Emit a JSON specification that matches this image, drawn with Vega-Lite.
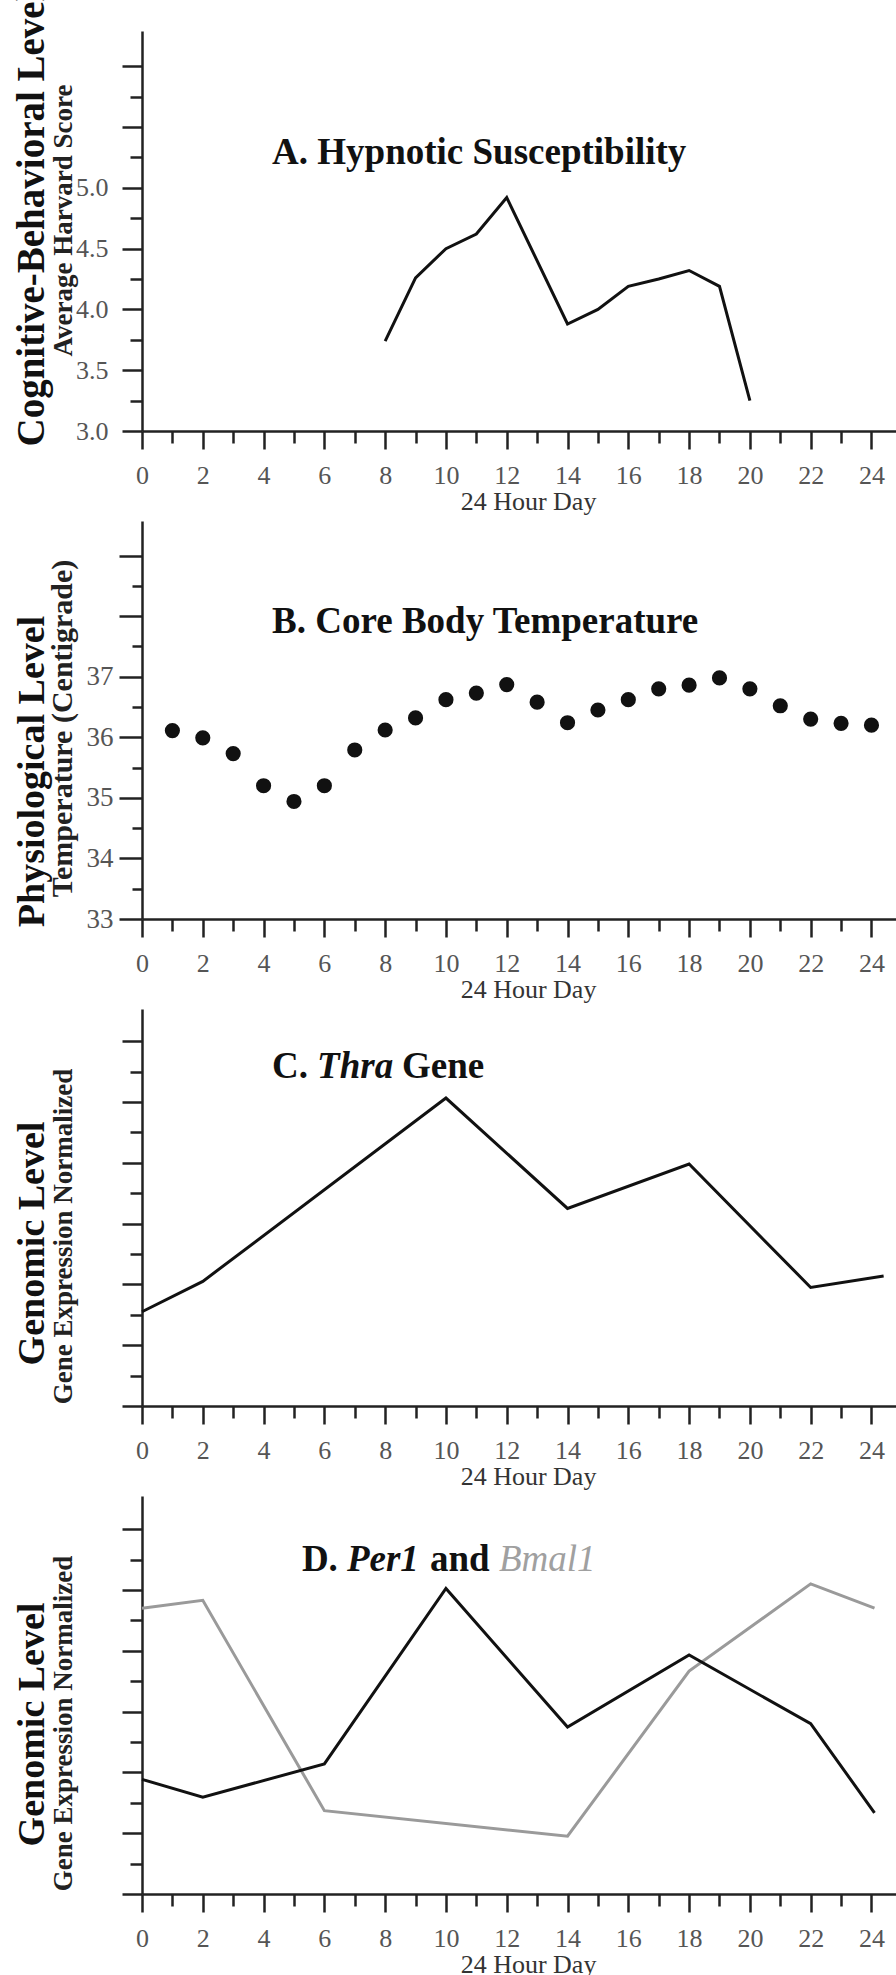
{
  "$schema": "https://vega.github.io/schema/vega-lite/v6.json",
  "autosize": {"type": "pad"},
  "padding": {"top": -11, "left": 11, "right": 0, "bottom": 0},
  "background": "white",
  "config": {
    "view": {"stroke": null},
    "font": "Liberation Serif",
    "axis": {"labelFont": "Liberation Serif", "titleFont": "Liberation Serif", "grid": false},
    "text": {"font": "Liberation Serif"}
  },
  "spacing": 90,
  "bounds": "flush",
  "vconcat": [
    {
      "width": 755, "height": 400,
      "data": {"values": [
        {"hour": 8, "score": 3.74}, {"hour": 9, "score": 4.26}, {"hour": 10, "score": 4.5},
        {"hour": 11, "score": 4.62}, {"hour": 12, "score": 4.92}, {"hour": 14, "score": 3.88},
        {"hour": 15, "score": 4.0}, {"hour": 16, "score": 4.19}, {"hour": 17, "score": 4.25},
        {"hour": 18, "score": 4.32}, {"hour": 19, "score": 4.19}, {"hour": 20, "score": 3.25}
      ]},
      "layer": [
        {
          "mark": {"type": "line", "color": "#111", "strokeWidth": 3},
          "encoding": {
            "x": {"field": "hour", "type": "quantitative", "scale": {"domain": [0, 24.84], "nice": false, "zero": false},
              "axis": {"orient": "bottom", "values": [0,2,4,6,8,10,12,14,16,18,20,22,24], "format": "d", "tickSize": 18, "tickWidth": 2.5, "tickColor": "#222", "domainColor": "#222", "domainWidth": 2.5, "labelFontSize": 26, "labelColor": "#555", "labelPadding": 13, "labelFlush": false, "labelOverlap": false, "title": "24 Hour Day", "titleFontSize": 26, "titleFontWeight": "normal", "titleColor": "#333", "titleX": 386, "titleY": 78, "titleAlign": "center", "titleBaseline": "alphabetic"}},
            "y": {"field": "score", "type": "quantitative", "scale": {"domain": [3, 6.29], "nice": false, "zero": false},
              "axis": {"orient": "left", "values": [3, 3.5, 4, 4.5, 5, 5.5, 6], "labelExpr": "datum.value <= 5 ? format(datum.value, '.1f') : ''", "tickSize": 20, "tickWidth": 2.5, "tickColor": "#222", "domainColor": "#222", "domainWidth": 2.5, "labelFontSize": 26, "labelColor": "#555", "labelPadding": 14, "labelBaseline": "middle", "labelFlush": false, "labelOverlap": false, "title": "Cognitive-Behavioral Level", "titleFontSize": 39, "titleFontWeight": "bold", "titleColor": "#111", "titleAngle": -90, "titleAlign": "center", "titleBaseline": "alphabetic", "titleX": -99, "titleY": 187}}
          }
        },
        {
          "data": {"values": [{"t": "A. Hypnotic Susceptibility"}]},
          "mark": {"type": "text", "align": "left", "baseline": "alphabetic", "fontSize": 37, "fontWeight": "bold", "color": "#111"},
          "encoding": {
            "x": {"datum": 4.28, "type": "quantitative", "scale": {"domain": [0, 24.84], "nice": false, "zero": false},
              "axis": {"orient": "bottom", "values": [1,3,5,7,9,11,13,15,17,19,21,23], "tickSize": 12, "tickWidth": 2.5, "tickColor": "#222", "labels": false, "domain": false, "title": null}},
            "y": {"datum": 5.196, "type": "quantitative", "scale": {"domain": [3, 6.29], "nice": false, "zero": false},
              "axis": {"orient": "left", "values": [3.25, 3.75, 4.25, 4.75, 5.25, 5.75], "tickSize": 12, "tickWidth": 2.5, "tickColor": "#222", "labels": false, "domain": false, "title": "Average Harvard Score", "titleFontSize": 27, "titleFontWeight": "bold", "titleColor": "#222", "titleAngle": -90, "titleAlign": "center", "titleBaseline": "alphabetic", "titleX": -71, "titleY": 189}},
            "text": {"field": "t"}
          }
        }
      ],
      "resolve": {"axis": {"x": "independent", "y": "independent"}}
    },
    {
      "width": 755, "height": 398,
      "data": {"values": [
        {"hour": 1, "temp": 36.11}, {"hour": 2, "temp": 35.99}, {"hour": 3, "temp": 35.73},
        {"hour": 4, "temp": 35.2}, {"hour": 5, "temp": 34.94}, {"hour": 6, "temp": 35.2},
        {"hour": 7, "temp": 35.79}, {"hour": 8, "temp": 36.12}, {"hour": 9, "temp": 36.32},
        {"hour": 10, "temp": 36.62}, {"hour": 11, "temp": 36.73}, {"hour": 12, "temp": 36.87},
        {"hour": 13, "temp": 36.58}, {"hour": 14, "temp": 36.24}, {"hour": 15, "temp": 36.45},
        {"hour": 16, "temp": 36.62}, {"hour": 17, "temp": 36.8}, {"hour": 18, "temp": 36.86},
        {"hour": 19, "temp": 36.98}, {"hour": 20, "temp": 36.8}, {"hour": 21, "temp": 36.52},
        {"hour": 22, "temp": 36.3}, {"hour": 23, "temp": 36.23}, {"hour": 24, "temp": 36.2}
      ]},
      "layer": [
        {
          "mark": {"type": "circle", "size": 230, "color": "#111", "opacity": 1},
          "encoding": {
            "x": {"field": "hour", "type": "quantitative", "scale": {"domain": [0, 24.84], "nice": false, "zero": false},
              "axis": {"orient": "bottom", "values": [0,2,4,6,8,10,12,14,16,18,20,22,24], "format": "d", "tickSize": 18, "tickWidth": 2.5, "tickColor": "#222", "domainColor": "#222", "domainWidth": 2.5, "labelFontSize": 26, "labelColor": "#555", "labelPadding": 13, "labelFlush": false, "labelOverlap": false, "title": "24 Hour Day", "titleFontSize": 26, "titleFontWeight": "normal", "titleColor": "#333", "titleX": 386, "titleY": 78, "titleAlign": "center", "titleBaseline": "alphabetic"}},
            "y": {"field": "temp", "type": "quantitative", "scale": {"domain": [33, 39.57], "nice": false, "zero": false},
              "axis": {"orient": "left", "values": [33, 34, 35, 36, 37, 38, 39], "labelExpr": "datum.value <= 37 ? format(datum.value, 'd') : ''", "tickSize": 23, "tickWidth": 2.5, "tickColor": "#222", "domainColor": "#222", "domainWidth": 2.5, "labelFontSize": 27, "labelColor": "#555", "labelPadding": 6, "labelBaseline": "middle", "labelFlush": false, "labelOverlap": false, "title": "Physiological Level", "titleFontSize": 38, "titleFontWeight": "bold", "titleColor": "#111", "titleAngle": -90, "titleAlign": "center", "titleBaseline": "alphabetic", "titleX": -99, "titleY": 250}}
          }
        },
        {
          "data": {"values": [{"t": "B. Core Body Temperature"}]},
          "mark": {"type": "text", "align": "left", "baseline": "alphabetic", "fontSize": 37, "fontWeight": "bold", "color": "#111"},
          "encoding": {
            "x": {"datum": 4.28, "type": "quantitative", "scale": {"domain": [0, 24.84], "nice": false, "zero": false},
              "axis": {"orient": "bottom", "values": [1,3,5,7,9,11,13,15,17,19,21,23], "tickSize": 12, "tickWidth": 2.5, "tickColor": "#222", "labels": false, "domain": false, "title": null}},
            "y": {"datum": 37.72, "type": "quantitative", "scale": {"domain": [33, 39.57], "nice": false, "zero": false},
              "axis": {"orient": "left", "values": [33.5, 34.5, 35.5, 36.5, 37.5, 38.5], "tickSize": 10, "tickWidth": 2.5, "tickColor": "#222", "labels": false, "domain": false, "title": "Temperature (Centigrade)", "titleFontSize": 30, "titleFontWeight": "bold", "titleColor": "#222", "titleAngle": -90, "titleAlign": "center", "titleBaseline": "alphabetic", "titleX": -71, "titleY": 207}},
            "text": {"field": "t"}
          }
        }
      ],
      "resolve": {"axis": {"x": "independent", "y": "independent"}}
    },
    {
      "width": 755, "height": 397,
      "data": {"values": [
        {"hour": 0, "expr": 3.1}, {"hour": 2, "expr": 4.1}, {"hour": 10, "expr": 10.13},
        {"hour": 14, "expr": 6.5}, {"hour": 18, "expr": 7.96}, {"hour": 22, "expr": 3.9},
        {"hour": 24.4, "expr": 4.28}
      ]},
      "layer": [
        {
          "mark": {"type": "line", "color": "#111", "strokeWidth": 3},
          "encoding": {
            "x": {"field": "hour", "type": "quantitative", "scale": {"domain": [0, 24.84], "nice": false, "zero": false},
              "axis": {"orient": "bottom", "values": [0,2,4,6,8,10,12,14,16,18,20,22,24], "format": "d", "tickSize": 18, "tickWidth": 2.5, "tickColor": "#222", "domainColor": "#222", "domainWidth": 2.5, "labelFontSize": 26, "labelColor": "#555", "labelPadding": 13, "labelFlush": false, "labelOverlap": false, "title": "24 Hour Day", "titleFontSize": 26, "titleFontWeight": "normal", "titleColor": "#333", "titleX": 386, "titleY": 78, "titleAlign": "center", "titleBaseline": "alphabetic"}},
            "y": {"field": "expr", "type": "quantitative", "scale": {"domain": [0, 13.06], "nice": false, "zero": false},
              "axis": {"orient": "left", "values": [0, 2, 4, 6, 8, 10, 12], "labels": false, "tickSize": 20, "tickWidth": 2.5, "tickColor": "#222", "domainColor": "#222", "domainWidth": 2.5, "title": "Genomic Level", "titleFontSize": 38, "titleFontWeight": "bold", "titleColor": "#111", "titleAngle": -90, "titleAlign": "center", "titleBaseline": "alphabetic", "titleX": -99, "titleY": 234}}
          }
        },
        {
          "data": {"values": [{"t": "C."}]},
          "mark": {"type": "text", "align": "left", "baseline": "alphabetic", "fontSize": 37, "fontWeight": "bold", "color": "#111"},
          "encoding": {
            "x": {"datum": 4.28, "type": "quantitative", "scale": {"domain": [0, 24.84], "nice": false, "zero": false},
              "axis": {"orient": "bottom", "values": [1,3,5,7,9,11,13,15,17,19,21,23], "tickSize": 12, "tickWidth": 2.5, "tickColor": "#222", "labels": false, "domain": false, "title": null}},
            "y": {"datum": 10.79, "type": "quantitative", "scale": {"domain": [0, 13.06], "nice": false, "zero": false},
              "axis": {"orient": "left", "values": [1, 3, 5, 7, 9, 11], "tickSize": 12, "tickWidth": 2.5, "tickColor": "#222", "labels": false, "domain": false, "title": "Gene Expression Normalized", "titleFontSize": 27, "titleFontWeight": "bold", "titleColor": "#222", "titleAngle": -90, "titleAlign": "center", "titleBaseline": "alphabetic", "titleX": -71, "titleY": 227}},
            "text": {"field": "t"}
          }
        },
        {
          "data": {"values": [{"t": "Thra"}]},
          "mark": {"type": "text", "align": "left", "baseline": "alphabetic", "fontSize": 37, "fontWeight": "bold", "fontStyle": "italic", "color": "#111", "dx": 45},
          "encoding": {
            "x": {"datum": 4.28, "type": "quantitative", "scale": {"domain": [0, 24.84], "nice": false, "zero": false}, "axis": null},
            "y": {"datum": 10.79, "type": "quantitative", "scale": {"domain": [0, 13.06], "nice": false, "zero": false}, "axis": null},
            "text": {"field": "t"}
          }
        },
        {
          "data": {"values": [{"t": "Gene"}]},
          "mark": {"type": "text", "align": "left", "baseline": "alphabetic", "fontSize": 37, "fontWeight": "bold", "color": "#111", "dx": 130},
          "encoding": {
            "x": {"datum": 4.28, "type": "quantitative", "scale": {"domain": [0, 24.84], "nice": false, "zero": false}, "axis": null},
            "y": {"datum": 10.79, "type": "quantitative", "scale": {"domain": [0, 13.06], "nice": false, "zero": false}, "axis": null},
            "text": {"field": "t"}
          }
        }
      ],
      "resolve": {"axis": {"x": "independent", "y": "independent"}}
    },
    {
      "width": 755, "height": 398,
      "data": {"values": [
        {"hour": 0, "expr": 9.4, "gene": "Bmal1"}, {"hour": 2, "expr": 9.66, "gene": "Bmal1"},
        {"hour": 6, "expr": 2.74, "gene": "Bmal1"}, {"hour": 14, "expr": 1.9, "gene": "Bmal1"},
        {"hour": 18, "expr": 7.33, "gene": "Bmal1"}, {"hour": 22, "expr": 10.2, "gene": "Bmal1"},
        {"hour": 24.1, "expr": 9.4, "gene": "Bmal1"},
        {"hour": 0, "expr": 3.77, "gene": "Per1"}, {"hour": 2, "expr": 3.18, "gene": "Per1"},
        {"hour": 6, "expr": 4.28, "gene": "Per1"}, {"hour": 10, "expr": 10.05, "gene": "Per1"},
        {"hour": 14, "expr": 5.49, "gene": "Per1"}, {"hour": 18, "expr": 7.86, "gene": "Per1"},
        {"hour": 22, "expr": 5.6, "gene": "Per1"}, {"hour": 24.1, "expr": 2.67, "gene": "Per1"}
      ]},
      "layer": [
        {
          "mark": {"type": "line", "strokeWidth": 3},
          "encoding": {
            "x": {"field": "hour", "type": "quantitative", "scale": {"domain": [0, 24.84], "nice": false, "zero": false},
              "axis": {"orient": "bottom", "values": [0,2,4,6,8,10,12,14,16,18,20,22,24], "format": "d", "tickSize": 18, "tickWidth": 2.5, "tickColor": "#222", "domainColor": "#222", "domainWidth": 2.5, "labelFontSize": 26, "labelColor": "#555", "labelPadding": 13, "labelFlush": false, "labelOverlap": false, "title": "24 Hour Day", "titleFontSize": 26, "titleFontWeight": "normal", "titleColor": "#333", "titleX": 386, "titleY": 78, "titleAlign": "center", "titleBaseline": "alphabetic"}},
            "y": {"field": "expr", "type": "quantitative", "scale": {"domain": [0, 13.09], "nice": false, "zero": false},
              "axis": {"orient": "left", "values": [0, 2, 4, 6, 8, 10, 12], "labels": false, "tickSize": 20, "tickWidth": 2.5, "tickColor": "#222", "domainColor": "#222", "domainWidth": 2.5, "title": "Genomic Level", "titleFontSize": 38, "titleFontWeight": "bold", "titleColor": "#111", "titleAngle": -90, "titleAlign": "center", "titleBaseline": "alphabetic", "titleX": -99, "titleY": 228}},
            "color": {"field": "gene", "type": "nominal", "scale": {"domain": ["Bmal1", "Per1"], "range": ["#9a9a9a", "#111111"]}, "legend": null}
          }
        },
        {
          "data": {"values": [{"t": "D."}]},
          "mark": {"type": "text", "align": "left", "baseline": "alphabetic", "fontSize": 37, "fontWeight": "bold", "color": "#111"},
          "encoding": {
            "x": {"datum": 5.26, "type": "quantitative", "scale": {"domain": [0, 24.84], "nice": false, "zero": false},
              "axis": {"orient": "bottom", "values": [1,3,5,7,9,11,13,15,17,19,21,23], "tickSize": 12, "tickWidth": 2.5, "tickColor": "#222", "labels": false, "domain": false, "title": null}},
            "y": {"datum": 10.62, "type": "quantitative", "scale": {"domain": [0, 13.09], "nice": false, "zero": false},
              "axis": {"orient": "left", "values": [1, 3, 5, 7, 9, 11], "tickSize": 12, "tickWidth": 2.5, "tickColor": "#222", "labels": false, "domain": false, "title": "Gene Expression Normalized", "titleFontSize": 27, "titleFontWeight": "bold", "titleColor": "#222", "titleAngle": -90, "titleAlign": "center", "titleBaseline": "alphabetic", "titleX": -71, "titleY": 227}},
            "text": {"field": "t"}
          }
        },
        {
          "data": {"values": [{"t": "Per1"}]},
          "mark": {"type": "text", "align": "left", "baseline": "alphabetic", "fontSize": 37, "fontWeight": "bold", "fontStyle": "italic", "color": "#111", "dx": 45},
          "encoding": {
            "x": {"datum": 5.26, "type": "quantitative", "scale": {"domain": [0, 24.84], "nice": false, "zero": false}, "axis": null},
            "y": {"datum": 10.62, "type": "quantitative", "scale": {"domain": [0, 13.09], "nice": false, "zero": false}, "axis": null},
            "text": {"field": "t"}
          }
        },
        {
          "data": {"values": [{"t": "and"}]},
          "mark": {"type": "text", "align": "left", "baseline": "alphabetic", "fontSize": 37, "fontWeight": "bold", "color": "#111", "dx": 128},
          "encoding": {
            "x": {"datum": 5.26, "type": "quantitative", "scale": {"domain": [0, 24.84], "nice": false, "zero": false}, "axis": null},
            "y": {"datum": 10.62, "type": "quantitative", "scale": {"domain": [0, 13.09], "nice": false, "zero": false}, "axis": null},
            "text": {"field": "t"}
          }
        },
        {
          "data": {"values": [{"t": "Bmal1"}]},
          "mark": {"type": "text", "align": "left", "baseline": "alphabetic", "fontSize": 37, "fontWeight": "normal", "fontStyle": "italic", "color": "#a0a0a0", "dx": 197},
          "encoding": {
            "x": {"datum": 5.26, "type": "quantitative", "scale": {"domain": [0, 24.84], "nice": false, "zero": false}, "axis": null},
            "y": {"datum": 10.62, "type": "quantitative", "scale": {"domain": [0, 13.09], "nice": false, "zero": false}, "axis": null},
            "text": {"field": "t"}
          }
        }
      ],
      "resolve": {"axis": {"x": "independent", "y": "independent"}}
    }
  ]
}
